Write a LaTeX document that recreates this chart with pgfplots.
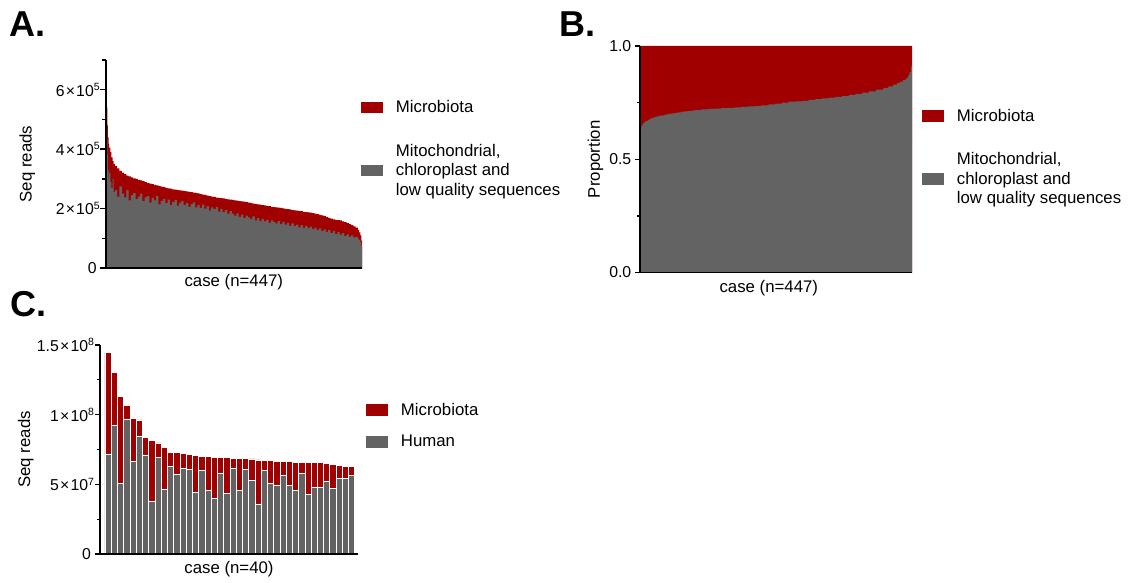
\documentclass[border=0pt]{standalone}
\usepackage{fontspec}
\setmainfont{Liberation Sans}
\usepackage{pgfplots}
\usepackage{pgfplotstable}
\pgfplotsset{compat=1.18}

\definecolor{micro}{RGB}{160,0,0}
\definecolor{host}{RGB}{99,99,99}

% tick label of the form a x 10^b
\newcommand{\sci}[2]{#1\kern1.2pt×\kern1.2pt10\raisebox{5.5pt}{\fontsize{10.5}{10.5}\selectfont #2}\kern-3pt}

% A: total and non-microbial reads (thousands) per case, sorted
\pgfplotstableread{
c t g
0 650 530
1 600 500
2 540 430
3 480 380
4 440 330
5 418 300
6 405 320
8 390 290
10 372 270
12 360 300
14 350 255
16 344 262
20 335 240
24 327 275
28 321 250
32 316 238
36 311 262
40 308 228
44 305 245
48 302 252
52 300 232
56 297 240
60 295 250
64 292 225
68 289 238
72 286 242
76 284 220
80 282 236
84 280 228
88 278 242
92 276 214
96 274 226
100 272 233
104 270 218
108 268 230
112 267 212
116 265 222
120 264 229
124 262 210
128 261 220
132 260 226
136 259 212
140 258 219
144 256 206
148 255 215
152 254 221
156 253 204
160 251 212
164 249 202
168 247 213
172 246 200
176 244 208
180 242 194
184 240 204
188 239 198
192 237 206
196 236 190
200 235 199
204 234 188
208 233 195
212 231 182
216 230 191
220 229 183
224 228 176
228 227 184
232 225 172
236 224 180
240 223 168
244 222 176
248 220 170
252 219 165
256 217 174
260 216 160
264 214 168
268 213 158
272 212 165
276 211 157
280 209 162
284 208 152
288 206 160
292 205 155
296 204 150
300 203 158
304 202 148
308 201 155
312 199 146
316 198 152
320 197 142
324 195 150
328 194 141
332 193 146
336 192 137
340 191 144
344 189 135
348 188 142
352 187 134
356 186 139
360 185 131
364 183 136
368 181 128
372 179 133
376 177 124
380 175 130
384 172 122
388 169 128
392 166 118
396 164 125
400 162 114
404 161 121
408 160 112
412 157 117
416 154 108
420 151 113
424 148 106
428 144 110
432 140 103
436 136 105
440 128 98
442 120 94
444 110 86
446 92 75
447 92 75
}\dataA

% B: proportion of non-microbial reads per case, sorted
\pgfplotstableread{
c p
0 0.644
2 0.650
4 0.658
6 0.663
8 0.667
10 0.670
13 0.675
16 0.680
20 0.684
24 0.688
29 0.691
34 0.694
40 0.697
45 0.700
51 0.702
56 0.705
62 0.707
67 0.710
73 0.711
78 0.713
84 0.715
89 0.717
100 0.720
111 0.722
122 0.724
133 0.726
144 0.727
155 0.729
166 0.731
177 0.733
188 0.735
199 0.738
211 0.742
222 0.746
233 0.750
244 0.754
255 0.756
266 0.758
277 0.762
288 0.765
299 0.769
310 0.772
321 0.775
332 0.779
343 0.784
354 0.789
365 0.794
376 0.800
388 0.807
400 0.815
408 0.822
416 0.830
422 0.836
427 0.843
432 0.849
436 0.855
439 0.862
441 0.872
443 0.885
445 0.905
446 0.915
447 0.915
}\dataB

\pgfplotstableread{
c p
0 1
447 1
}\dataBtop

% C: human and microbiota reads (millions) per case
\pgfplotstableread{
x h m
1 71.8 72.9
2 92.3 38.1
3 50.7 62.2
4 96.9 9.6
5 66.7 30.4
6 84.7 11.5
7 71.1 12.4
8 38.0 43.6
9 69.1 10.6
10 46.4 30.2
11 62.9 10.3
12 57.4 15.3
13 61.7 10.3
14 60.5 11.0
15 44.5 26.3
16 60.3 10.0
17 45.9 24.2
18 40.0 29.6
19 57.7 11.7
20 43.5 25.6
21 61.5 7.4
22 45.9 22.8
23 60.5 8.2
24 52.6 15.6
25 35.9 31.6
26 60.0 7.2
27 50.5 16.5
28 49.0 17.7
29 56.5 10.0
30 49.5 16.8
31 45.5 20.5
32 57.7 8.3
33 42.8 23.0
34 48.1 17.7
35 48.1 17.5
36 52.2 12.9
37 47.1 17.0
38 54.3 9.1
39 54.3 8.6
40 56.5 6.2
}\dataC

\pgfplotsset{
  sqlegend/.style={legend image code/.code={\fill[##1,draw=none] (0pt,-5.85pt) rectangle (22.4pt,5.85pt);}},
  % common geometry and frame of the three panels
  frame/.style={
    scale only axis, anchor=south west,
    axis lines*=left,
    axis line style={line width=1.8pt, black},
    enlargelimits=false,
    xtick=\empty,
    tick align=outside, major tick length=5.5pt, minor tick length=3.3pt,
    tick style={black, line width=1.3pt},
    ymin=0,
  },
  panel/.style={
    frame, axis on top,
    tick label style={font=\fontsize{15.8}{18}\selectfont},
    label style={font=\fontsize{16.8}{20}\selectfont},
    ylabel style={anchor=center},
    xlabel style={anchor=base},
    legend cell align=left,
    legend style={draw=none, fill=none, inner sep=0pt, outer sep=0pt,
      anchor=north west, row sep=29.6pt, column sep=12.5pt,
      nodes={inner sep=0pt, outer sep=0pt, align=left,
        font=\fontsize{16.8}{19.7}\selectfont}},
    sqlegend,
  },
  % an empty axis on top that redraws the axis lines and ticks over the fills
  overframe/.style={frame, yticklabels={}},
}
\tikzset{letter/.style={anchor=base west, inner sep=0pt, font=\bfseries\fontsize{36}{36}\selectfont}}

\begin{document}
\begin{tikzpicture}
\useasboundingbox (0,0) rectangle (1132pt,-583pt);

\node[letter] at (9pt,-37pt) {A.};
\node[letter] at (559.5pt,-37pt) {B.};
\node[letter] at (10pt,-316pt) {C.};

% A
\begin{axis}[panel,
  at={(105.7pt,-268pt)}, width=256.3pt, height=208pt,
  xmin=0, xmax=447, ymax=700,
  ytick={0,200,400,600}, minor ytick={100,300,500,700},
  yticklabels={0,\sci{2}{5},\sci{4}{5},\sci{6}{5}},
  ylabel={Seq reads},
  ylabel style={at={(axis description cs:-0.306,0.5)}},
  xlabel={case (n=447)},
  xlabel style={at={(axis description cs:0.5,-0.09)}},
  legend style={at={(axis description cs:0.996,0.804)}},
]
\addplot[const plot, fill=micro, draw=none] table[x=c,y=t] {\dataA} \closedcycle;
\addplot[const plot, fill=host, draw=none] table[x=c,y=g] {\dataA} \closedcycle;
\addlegendentry{Microbiota}
\addlegendentry{Mitochondrial,\\chloroplast and\\low quality sequences}
\end{axis}
\begin{axis}[overframe,
  at={(105.7pt,-268pt)}, width=256.3pt, height=208pt,
  xmin=0, xmax=447, ymax=700,
  ytick={0,200,400,600}, minor ytick={100,300,500,700},
]
\end{axis}

% B
\begin{axis}[panel,
  at={(640.3pt,-272.5pt)}, width=271.7pt, height=226.5pt,
  xmin=0, xmax=447, ymax=1,
  ytick={0,0.5,1}, minor ytick={0.25,0.75},
  yticklabels={0.0,0.5,1.0},
  ylabel={Proportion},
  ylabel style={at={(axis description cs:-0.165,0.5)}},
  xlabel={case (n=447)},
  xlabel style={at={(axis description cs:0.473,-0.087)}},
  legend style={at={(axis description cs:1.0368,0.722)}},
]
\addplot[const plot, fill=micro, draw=none] table[x=c,y=p] {\dataBtop} \closedcycle;
\addplot[const plot, fill=host, draw=none] table[x=c,y=p] {\dataB} \closedcycle;
\addlegendentry{Microbiota}
\addlegendentry{Mitochondrial,\\chloroplast and\\low quality sequences}
\end{axis}
\begin{axis}[overframe,
  at={(640.3pt,-272.5pt)}, width=271.7pt, height=226.5pt,
  xmin=0, xmax=447, ymax=1,
  ytick={0,0.5,1}, minor ytick={0.25,0.75},
]
\end{axis}

% C
\begin{axis}[panel,
  at={(100pt,-554pt)}, width=258pt, height=209pt,
  ybar stacked, bar width=1,
  enlargelimits=false,
  xmin=-0.3, xmax=41, ymax=150,
  ytick={0,50,100,150}, minor ytick={25,75,125},
  yticklabels={0,\sci{5}{7},\sci{1}{8},\sci{1.5}{8}},
  ylabel={Seq reads},
  ylabel style={at={(axis description cs:-0.288,0.5)}},
  xlabel={case (n=40)},
  xlabel style={at={(axis description cs:0.5,-0.092)}},
  reverse legend,
  legend style={at={(axis description cs:1.031,0.723)}, row sep=18.8pt},
  sqlegend,
]
\addplot[fill=host, draw=white, line width=0.8pt, sqlegend] table[x=x,y=h] {\dataC};
\addplot[fill=micro, draw=white, line width=0.8pt, sqlegend] table[x=x,y=m] {\dataC};
\addlegendentry{Human}
\addlegendentry{Microbiota}
\end{axis}
\end{tikzpicture}
\end{document}
